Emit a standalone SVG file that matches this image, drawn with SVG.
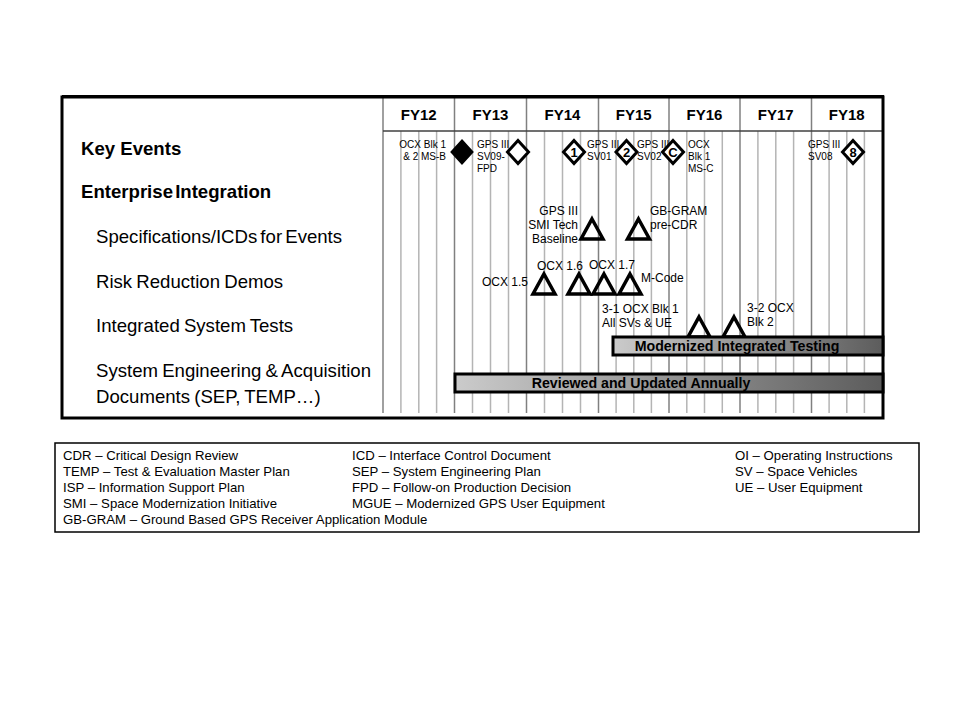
<svg xmlns="http://www.w3.org/2000/svg" width="960" height="720" viewBox="0 0 960 720">
<style>
text{font-family:"Liberation Sans",Arial,sans-serif;fill:#000}
.row{font-size:18.6px}
.rowb{font-size:18.6px;font-weight:bold}
.yr{font-size:15px;font-weight:bold;text-anchor:middle}
.ke{font-size:10px}
.lb{font-size:12px}
.lg{font-size:13.2px}
.bt{font-size:14.2px;font-weight:bold;text-anchor:middle}
.dg{font-size:13px;font-weight:bold;text-anchor:middle}
.yl{stroke:#808080;stroke-width:1.5}
.ql{stroke:#b4b4b4;stroke-width:1.5}
.dm{fill:#fff;stroke:#000;stroke-width:3}
.tr{fill:none;stroke:#000;stroke-width:3.5;stroke-linejoin:miter}
.bar{stroke:#000;stroke-width:3;fill:url(#g)}
</style>
<defs>
<linearGradient id="g" x1="0" y1="0" x2="1" y2="0">
<stop offset="0" stop-color="#cbcbcb"/>
<stop offset="1" stop-color="#5c5c5c"/>
</linearGradient>
</defs>
<rect width="960" height="720" fill="#fff"/>

<g id="grid">
<g class="ql">
<line x1="400.9" y1="131" x2="400.9" y2="413"/><line x1="418.8" y1="131" x2="418.8" y2="413"/><line x1="436.6" y1="131" x2="436.6" y2="413"/>
<line x1="472.5" y1="131" x2="472.5" y2="413"/><line x1="490.5" y1="131" x2="490.5" y2="413"/><line x1="508.5" y1="131" x2="508.5" y2="413"/>
<line x1="544.5" y1="131" x2="544.5" y2="413"/><line x1="562.5" y1="131" x2="562.5" y2="413"/><line x1="580.5" y1="131" x2="580.5" y2="413"/>
<line x1="616.1" y1="131" x2="616.1" y2="413"/><line x1="633.8" y1="131" x2="633.8" y2="413"/><line x1="651.4" y1="131" x2="651.4" y2="413"/>
<line x1="686.8" y1="131" x2="686.8" y2="413"/><line x1="704.5" y1="131" x2="704.5" y2="413"/><line x1="722.3" y1="131" x2="722.3" y2="413"/>
<line x1="757.9" y1="131" x2="757.9" y2="413"/><line x1="775.8" y1="131" x2="775.8" y2="413"/><line x1="793.6" y1="131" x2="793.6" y2="413"/>
<line x1="829.1" y1="131" x2="829.1" y2="413"/><line x1="846.8" y1="131" x2="846.8" y2="413"/><line x1="864.4" y1="131" x2="864.4" y2="413"/>
</g>
<g class="yl">
<line x1="383" y1="97" x2="383" y2="413"/>
<line x1="454.5" y1="97" x2="454.5" y2="413"/>
<line x1="526.5" y1="97" x2="526.5" y2="413"/>
<line x1="598.5" y1="97" x2="598.5" y2="413"/>
<line x1="669" y1="97" x2="669" y2="413"/>
<line x1="740" y1="97" x2="740" y2="413"/>
<line x1="811.5" y1="97" x2="811.5" y2="413"/>
</g>
<line x1="383" y1="131" x2="882" y2="131" stroke="#404040" stroke-width="1.5"/>
</g>

<rect id="frame" x="62" y="97" width="821" height="321" fill="none" stroke="#000" stroke-width="3"/>
<line x1="62" y1="96" x2="884" y2="96" stroke="#000" stroke-width="2"/>

<g id="years">
<text class="yr" x="418.8" y="120">FY12</text>
<text class="yr" x="490.5" y="120">FY13</text>
<text class="yr" x="562.5" y="120">FY14</text>
<text class="yr" x="633.8" y="120">FY15</text>
<text class="yr" x="704.5" y="120">FY16</text>
<text class="yr" x="775.8" y="120">FY17</text>
<text class="yr" x="846.8" y="120">FY18</text>
</g>

<g id="row-labels">
<text class="rowb" x="81" y="155">Key Events</text>
<text class="rowb" x="81" y="198" word-spacing="-3">Enterprise Integration</text>
<text class="row" x="96" y="243" word-spacing="-2">Specifications/ICDs for Events</text>
<text class="row" x="96" y="288" word-spacing="-1">Risk Reduction Demos</text>
<text class="row" x="96" y="332" word-spacing="-1">Integrated System Tests</text>
<text class="row" x="96" y="377" word-spacing="-1">System Engineering &amp; Acquisition</text>
<text class="row" x="96" y="403" word-spacing="-1">Documents (SEP, TEMP…)</text>
</g>

<g id="ev-ocx-msb">
<text class="ke" text-anchor="end" x="446" y="148">OCX  Blk 1</text>
<text class="ke" text-anchor="end" x="446" y="160">&amp; 2 MS-B</text>
<polygon points="462,140.5 472.5,152 462,163.5 451.5,152" fill="#000" stroke="#000" stroke-width="2"/>
</g>
<g id="ev-sv09">
<text class="ke" x="477" y="148">GPS  III</text>
<text class="ke" x="477" y="160">SV09-</text>
<text class="ke" x="477" y="172">FPD</text>
<polygon class="dm" points="518,140.5 528.5,152 518,163.5 507.5,152"/>
</g>
<g id="ev-1">
<polygon class="dm" points="574,140.5 584.5,152 574,163.5 563.5,152"/>
<text class="dg" x="574" y="157">1</text>
<text class="ke" x="587" y="148">GPS  III</text>
<text class="ke" x="587" y="160">SV01</text>
</g>
<g id="ev-2">
<polygon class="dm" points="626.5,140.5 637,152 626.5,163.5 616,152"/>
<text class="dg" x="626.5" y="157">2</text>
<text class="ke" x="637" y="148">GPS  III</text>
<text class="ke" x="637" y="160">SV02</text>
</g>
<g id="ev-c">
<polygon class="dm" points="673,140.5 683.5,152 673,163.5 662.5,152"/>
<text class="dg" x="673" y="157">C</text>
<text class="ke" x="688" y="148">OCX</text>
<text class="ke" x="688" y="160">Blk 1</text>
<text class="ke" x="688" y="172">MS-C</text>
</g>
<g id="ev-8">
<text class="ke" x="808" y="148">GPS  III</text>
<text class="ke" x="808" y="160">SV08</text>
<polygon class="dm" points="853,140.5 863.5,152 853,163.5 842.5,152"/>
<text class="dg" x="853" y="157">8</text>
</g>

<g id="spec-smi">
<text class="lb" text-anchor="end" x="578" y="215">GPS III</text>
<text class="lb" text-anchor="end" x="578" y="229">SMI Tech</text>
<text class="lb" text-anchor="end" x="578" y="243">Baseline</text>
<polygon class="tr" points="592,219 603,239 581,239"/>
</g>
<g id="spec-gbgram">
<polygon class="tr" points="638.5,219 649.5,239 627.5,239"/>
<text class="lb" x="650" y="215">GB-GRAM</text>
<text class="lb" x="650" y="229">pre-CDR</text>
</g>

<g id="rr-ocx15">
<text class="lb" x="482" y="286">OCX 1.5</text>
<polygon class="tr" points="544,274 555,294 533,294"/>
</g>
<g id="rr-ocx16">
<text class="lb" x="537" y="270">OCX 1.6</text>
<polygon class="tr" points="579,274 590,294 568,294"/>
</g>
<g id="rr-ocx17">
<text class="lb" x="589" y="269">OCX 1.7</text>
<polygon class="tr" points="604,274 615,294 593,294"/>
</g>
<g id="rr-mcode">
<polygon class="tr" points="630,274 641,294 619,294"/>
<text class="lb" x="641" y="282">M-Code</text>
</g>

<g id="ist-31">
<text class="lb" x="602" y="313">3-1 OCX Blk 1</text>
<text class="lb" x="602" y="327">All SVs &amp; UE</text>
<polygon class="tr" points="699,317 710,337 688,337"/>
</g>
<g id="ist-32">
<text class="lb" x="747" y="312">3-2 OCX</text>
<text class="lb" x="747" y="326">Blk 2</text>
<polygon class="tr" points="734,317 745,337 723,337"/>
</g>

<g id="bar-mit">
<rect class="bar" x="613" y="337" width="270" height="18"/>
<text class="bt" x="737" y="351">Modernized Integrated Testing</text>
</g>
<g id="bar-rua">
<rect class="bar" x="455" y="374" width="428" height="18"/>
<text class="bt" x="641" y="388">Reviewed and Updated Annually</text>
</g>

<g id="legend">
<rect x="55" y="443" width="864" height="89" fill="#fff" stroke="#000" stroke-width="1.5"/>
<text class="lg" x="63" y="460">CDR – Critical Design Review</text>
<text class="lg" x="63" y="476">TEMP – Test &amp; Evaluation  Master Plan</text>
<text class="lg" x="63" y="492">ISP – Information  Support Plan</text>
<text class="lg" x="63" y="508">SMI – Space Modernization Initiative</text>
<text class="lg" x="63" y="524">GB-GRAM – Ground  Based GPS Receiver  Application Module</text>
<text class="lg" x="352" y="460">ICD – Interface Control Document</text>
<text class="lg" x="352" y="476">SEP – System Engineering  Plan</text>
<text class="lg" x="352" y="492">FPD – Follow-on  Production Decision</text>
<text class="lg" x="352" y="508">MGUE – Modernized  GPS User Equipment</text>
<text class="lg" x="735" y="460">OI – Operating Instructions</text>
<text class="lg" x="735" y="476">SV – Space Vehicles</text>
<text class="lg" x="735" y="492">UE – User Equipment</text>
</g>
</svg>
